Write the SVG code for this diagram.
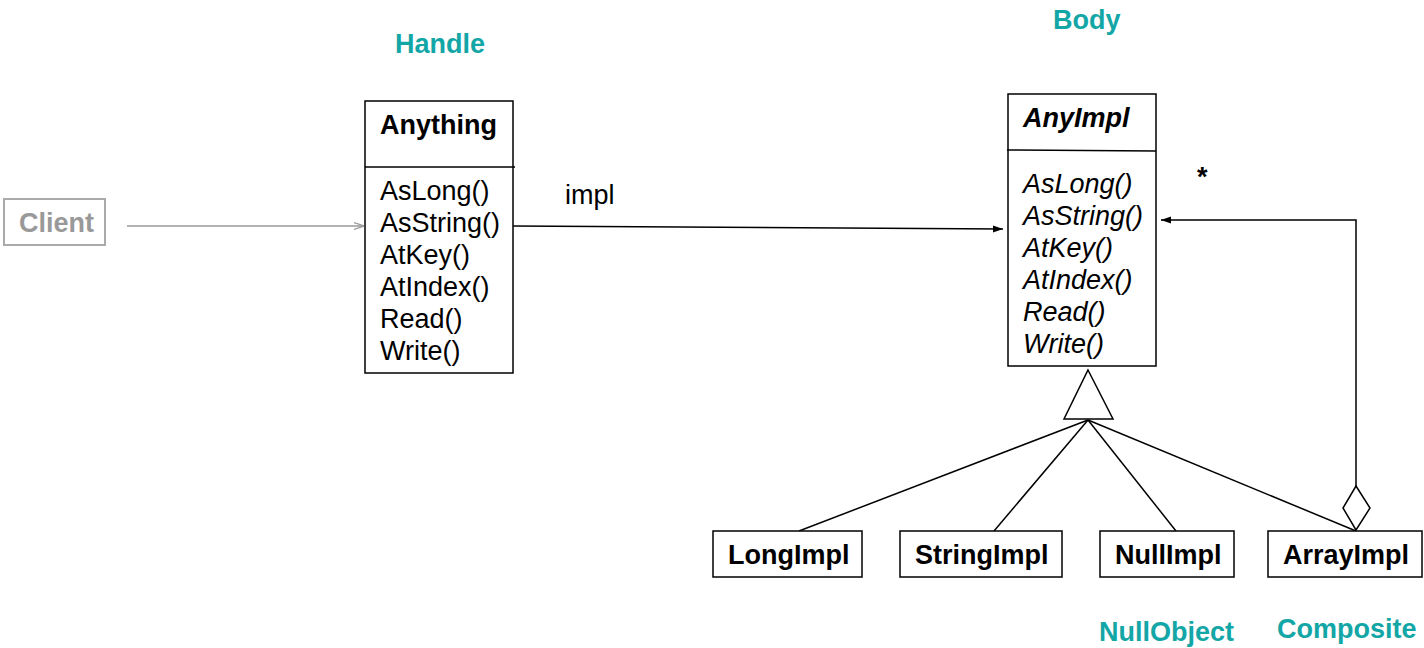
<svg xmlns="http://www.w3.org/2000/svg" width="1424" height="648" viewBox="0 0 1424 648">
<defs>
<style>
text{font-family:"Liberation Sans",Arial,sans-serif;font-size:27px;fill:#000}
.b{font-weight:bold}
.i{font-style:italic}
.lbl{font-weight:bold;fill:#13a6a6}
.box{fill:#fff;stroke:#000;stroke-width:1.5}
.ln{fill:none;stroke:#000;stroke-width:1.5}
</style>
<marker id="ah" viewBox="0 0 10 10" refX="10" refY="5" markerWidth="10" markerHeight="10" markerUnits="userSpaceOnUse" orient="auto">
<path d="M0,1.5 L10,5 L0,8.5 Z" fill="#000"/>
</marker>
<marker id="ahg" viewBox="0 0 10 10" refX="10" refY="5" markerWidth="10" markerHeight="10" markerUnits="userSpaceOnUse" orient="auto">
<path d="M0,1.5 L10,5 L0,8.5" fill="none" stroke="#999" stroke-width="1.2"/>
</marker>
</defs>
<rect width="1424" height="648" fill="#fff"/>

<text class="lbl" x="395" y="53">Handle</text>
<text class="lbl" x="1053" y="29">Body</text>
<text class="lbl" x="1099" y="641">NullObject</text>
<text class="lbl" x="1277" y="638">Composite</text>

<g id="connectors">
<line x1="127" y1="226" x2="364" y2="226" stroke="#999" stroke-width="1.5" marker-end="url(#ahg)"/>
<line x1="513" y1="226" x2="1003" y2="229" class="ln" marker-end="url(#ah)"/>
<text x="565" y="204">impl</text>
<polyline points="1356,487 1356,220 1161,220" class="ln" marker-end="url(#ah)"/>
<text class="b" x="1197" y="186">*</text>
<polygon points="1088,370 1113,419 1064,419" class="box"/>
<line x1="1088" y1="420" x2="799" y2="531" class="ln"/>
<line x1="1088" y1="420" x2="994" y2="531" class="ln"/>
<line x1="1088" y1="420" x2="1176" y2="531" class="ln"/>
<line x1="1088" y1="420" x2="1356" y2="531" class="ln"/>
<polygon points="1356,486 1370,508 1356,530 1343,508" class="box"/>
</g>

<g id="client">
<rect x="4" y="199" width="101" height="46" fill="#fff" stroke="#aaa" stroke-width="2"/>
<text class="b" x="19" y="232" style="fill:#999">Client</text>
</g>

<g id="anything">
<rect x="365" y="101" width="148" height="272" class="box"/>
<line x1="365" y1="167" x2="515" y2="167" class="ln"/>
<text class="b" x="380" y="134">Anything</text>
<text x="380" y="200">AsLong()</text>
<text x="380" y="232">AsString()</text>
<text x="380" y="264">AtKey()</text>
<text x="380" y="296">AtIndex()</text>
<text x="380" y="328">Read()</text>
<text x="380" y="360">Write()</text>
</g>

<g id="anyimpl">
<rect x="1008" y="94" width="148" height="272" class="box"/>
<line x1="1007" y1="150" x2="1156" y2="151" class="ln"/>
<text class="b i" x="1023" y="127">AnyImpl</text>
<text class="i" x="1023" y="193">AsLong()</text>
<text class="i" x="1023" y="225">AsString()</text>
<text class="i" x="1023" y="257">AtKey()</text>
<text class="i" x="1023" y="289">AtIndex()</text>
<text class="i" x="1023" y="321">Read()</text>
<text class="i" x="1023" y="353">Write()</text>
</g>

<g id="longimpl">
<rect x="713" y="531" width="149" height="46" class="box"/>
<text class="b" x="728" y="564">LongImpl</text>
</g>
<g id="stringimpl">
<rect x="900" y="531" width="162" height="46" class="box"/>
<text class="b" x="915" y="564">StringImpl</text>
</g>
<g id="nullimpl">
<rect x="1100" y="531" width="134" height="46" class="box"/>
<text class="b" x="1115" y="564">NullImpl</text>
</g>
<g id="arrayimpl">
<rect x="1268" y="531" width="154" height="46" class="box"/>
<text class="b" x="1283" y="564">ArrayImpl</text>
</g>
</svg>
